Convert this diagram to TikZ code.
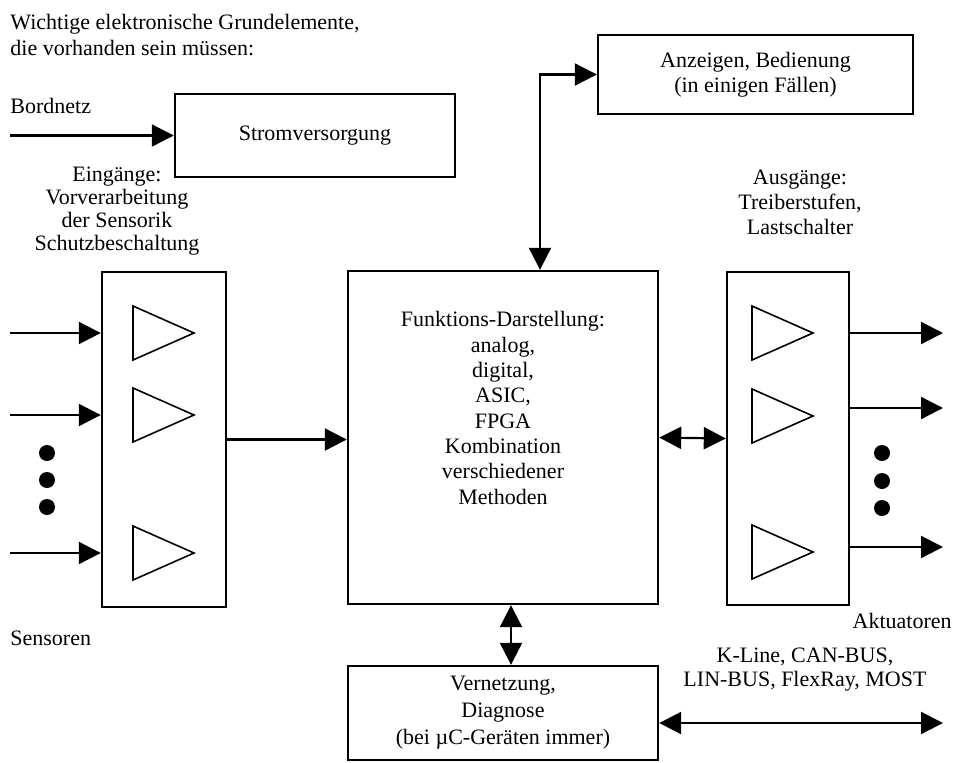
\documentclass[tikz,border=0pt]{standalone}
\usepackage{fontspec}
\setmainfont{Liberation Serif}
\usetikzlibrary{arrows.meta,positioning,calc}

\begin{document}
\begin{tikzpicture}[x=0.5pt, y=-0.5pt, font=\fontsize{11pt}{12.6pt}\selectfont,
  >={Triangle[length=11pt, width=11pt]},
  block/.style={draw, line width=1.2pt, inner sep=0pt, align=center},
  txt/.style={inner sep=0pt, align=center},
  conn/.style={line width=1.1pt},
  verst/.style={line width=0.8pt, line join=miter}]
  \useasboundingbox (0,0) rectangle (959,762);
  % heading and free labels
  \node[txt, align=left, anchor=west, font=\fontsize{11pt}{13.3pt}\selectfont] (titel) at (10,35)
       {Wichtige elektronische Grundelemente,\\die vorhanden sein müssen:};
  \node[txt, anchor=base west] (bord) at (10,113) {Bordnetz};
  \node[txt, anchor=base west] (sens) at (10,645) {Sensoren};
  \node[txt, anchor=base east] (akt) at (952,628) {Aktuatoren};
  \node[txt, font=\fontsize{11pt}{11.4pt}\selectfont] (eintxt) at (117,211)
       {Eingänge:\\Vorverarbeitung\\der Sensorik\\Schutzbeschaltung};
  \node[txt, font=\fontsize{11pt}{12.5pt}\selectfont] (austxt) at (800,202)
       {Ausgänge:\\Treiberstufen,\\Lastschalter};
  \node[txt, font=\fontsize{11pt}{12pt}\selectfont] (bus) at (805,670)
       {K-Line, CAN-BUS,\\LIN-BUS, FlexRay, MOST};
  % blocks
  \node[block, minimum width=140pt, minimum height=41.5pt] (strom) at (315,135.5) {Stromversorgung};
  \node[block, minimum width=157.5pt, minimum height=39.5pt, font=\fontsize{11pt}{12.5pt}\selectfont]
       (anz) at (755.5,74.5) {Anzeigen, Bedienung\\(in einigen Fällen)};
  \node[block, minimum width=62pt, minimum height=167.5pt] (ein) at (164,439.5) {};
  \node[block, minimum width=155pt, minimum height=166.5pt] (zentral) at (503,437.5) {};
  \node[block, minimum width=61pt, minimum height=166.5pt] (aus) at (788,438.5) {};
  \node[block, minimum width=155pt, minimum height=47pt, font=\fontsize{11pt}{13.5pt}\selectfont]
       (netz) at (503,713) {Vernetzung,\\Diagnose\\(bei µC-Geräten immer)};
  \node[txt, font=\fontsize{11pt}{12.65pt}\selectfont] (ztxt) at (503,408)
       {Funktions-Darstellung:\\analog,\\digital,\\ASIC,\\FPGA\\Kombination\\verschiedener\\Methoden};
  % inputs with amplifiers
  \coordinate (bn) at (10,135.5);
  \draw[conn, ->] (bn) -- (strom.west);
  \foreach \y [count=\i] in {333,415,553} {
    \coordinate (s\i) at (10,\y);
    \draw[conn, ->] (s\i) -- (s\i -| ein.west);
    \draw[verst] (133,\y-27) -- (194,\y) -- (133,\y+27) -- cycle;
  }
  \foreach \y in {453,480,507} \fill (47,\y) circle[radius=4pt];
  % outputs with drivers
  \foreach \y/\t [count=\i] in {333/333,408/416,547/552} {
    \coordinate (a\i) at (943,\y);
    \draw[conn, ->] (a\i -| aus.east) -- (a\i);
    \draw[verst] (752,\t-27) -- (813,\t) -- (752,\t+27) -- cycle;
  }
  \foreach \y in {453,481,508} \fill (882,\y) circle[radius=4pt];
  % links between blocks
  \draw[conn, ->] (ein.east) -- (ein.east -| zentral.west);
  \draw[conn, <->] (zentral.east) -- (aus.west);
  \draw[conn, <->] ($(zentral.north)+(37,0)$) |- (anz.west);
  \draw[conn, <->] ($(zentral.south)+(8,0)$) -- ($(netz.north)+(8,0)$);
  \coordinate (bk) at (943,723);
  \draw[conn, <->] (netz.east |- bk) -- (bk);
\end{tikzpicture}
\end{document}
